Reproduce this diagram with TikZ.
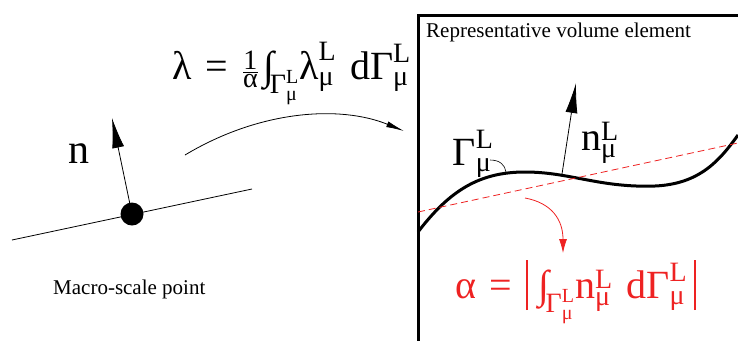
\documentclass[tikz,border=0pt]{standalone}
\usepackage{amsmath}
\usepackage{fontspec}
\setmainfont{Liberation Serif}
\usetikzlibrary{arrows.meta, positioning, calc}
\definecolor{alph}{HTML}{EE2222}

% upright symbols in the text face
\newcommand{\tx}[1]{\text{\rmfamily #1}}
\newcommand{\GmL}{\tx{Γ}^{\tx{L}}_{\tx{μ}}}
\newcommand{\absbar}{\rule[-12pt]{1.4pt}{50pt}}

\begin{document}
\begin{tikzpicture}[
    x=1pt, y=-1pt,
    >=Latex,
    lab/.style={font=\rmfamily\fontsize{21}{24}\selectfont, inner sep=0pt},
    big/.style={font=\rmfamily\fontsize{40}{46}\selectfont, inner sep=0pt},
    normal/.style={-{Latex[length=30pt, width=12pt]}, line width=0.8pt},
    rve/.style={line width=3pt},
]
\useasboundingbox (0,0) rectangle (738,341);

% macro-scale point
\coordinate (ml) at (12,240);
\coordinate (mr) at (252,189);
\draw[line width=0.8pt] (ml) -- (mr);
\node[circle, fill, minimum size=23pt, inner sep=0pt] (pt) at (132,214) {};
\coordinate (ntip) at (112,118);
\draw[normal] (pt.center) -- (ntip);
\node[big, font=\rmfamily\fontsize{42}{48}\selectfont] (nlab) at (79,154) {n};
\node[lab, anchor=base west] (macrolab) at (53,294) {Macro-scale point};

% scale transition
\node[big, anchor=base west] (lameq) at (172,79)
    {$\tx{λ}\;\mathrel{\tx{=}}\;\frac{\tx{1}}{\tx{α}}\,\tx{∫}_{\!\GmL}\tx{λ}^{\tx{L}}_{\tx{μ}}\;\;\tx{d}\GmL$};
\coordinate (tr0) at (185,155);
\coordinate (tr1) at (404,131);
\draw[-{Latex[length=18pt, width=6pt]}, line width=0.8pt]
    (tr0) .. controls (260,110) and (340,105) .. (tr1);

% representative volume element
\coordinate (rvetr) at (738,15);
\coordinate (rvetl) at (418,15);
\coordinate (rvebl) at (418,341);
\draw[rve] (rvetr) -- (rvetl) -- (rvebl);
\node[lab, anchor=base west] (rvetitle) at (426,37) {Representative volume element};

\coordinate (c0) at (418,232);
\coordinate (c1) at (525,172);
\coordinate (c2) at (655,186);
\coordinate (c3) at (738,135);
\draw[line width=3pt] (c0) .. controls (450,190) and (480,172) .. (c1)
    .. controls (570,172) and (600,188) .. (c2)
    .. controls (700,184) and (720,160) .. (c3);

\coordinate (nb) at (562,174);
\coordinate (nt) at (576,83);
\draw[normal] (nb) -- (nt);
\node[big] (nmu) at (600,143) {$\tx{n}^{\tx{L}}_{\tx{μ}}$};
\node[big] (gam) at (473,154) {$\GmL$};
\coordinate (hk0) at (490,160);
\coordinate (hk1) at (506,172);
\draw[line width=0.6pt] (hk0) .. controls (500,160) and (505,165) .. (hk1);

% averaged tangent and area factor
\coordinate (d0) at (418,212);
\coordinate (d1) at (738,143);
\draw[alph, line width=0.8pt, dash pattern=on 7pt off 4pt] (d0) -- (d1);
\coordinate (a0) at (525,198);
\coordinate (a1) at (563,253);
\draw[alph, -{Latex[length=14pt, width=8pt]}, line width=0.8pt]
    (a0) .. controls (552,203) and (563,220) .. (a1);
\node[big, text=alph, anchor=base west] (alpheq) at (455,298)
    {$\tx{α}\;\mathrel{\tx{=}}\;\absbar\;\,\tx{∫}_{\!\GmL}\tx{n}^{\tx{L}}_{\tx{μ}}\;\;\tx{d}\GmL\;\absbar$};
\end{tikzpicture}
\end{document}
